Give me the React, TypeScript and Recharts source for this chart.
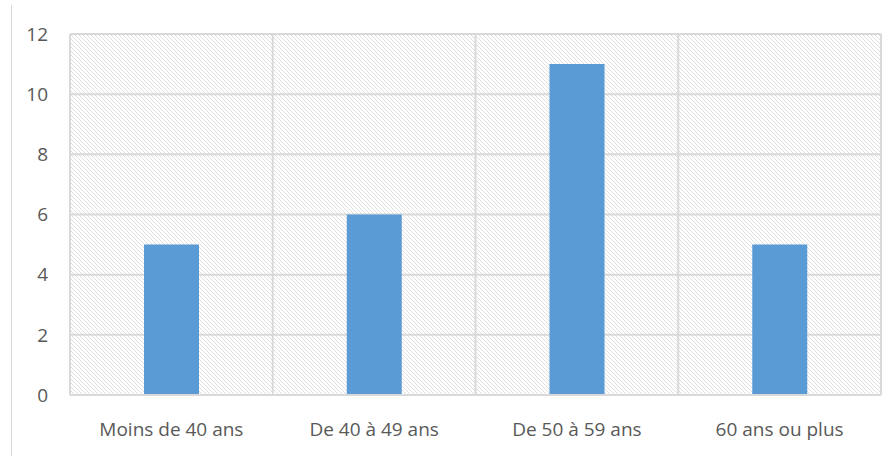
import { BarChart, Bar, XAxis, YAxis, CartesianGrid } from 'recharts';

const categories = ['Moins de 40 ans', 'De 40 à 49 ans', 'De 50 à 59 ans', '60 ans ou plus'];
const counts = [5, 6, 11, 5];
const yTicks = [0, 2, 4, 6, 8, 10, 12];

const data = categories.map((name, i) => ({ name, value: counts[i] }));

const font = "'Open Sans', 'Noto Sans', sans-serif";

export default function App() {
  return (
    <div style={{ position: 'absolute', left: 0, top: 0, width: 896, height: 456, background: '#fff' }}>
      <svg width="0" height="0" style={{ position: 'absolute' }}>
        <defs>
          <pattern id="hatch" width="4" height="4" patternUnits="userSpaceOnUse">
            <path d="M-1,-1 l2,2 M0,0 l4,4 M3,3 l2,2" stroke="#dcdcdc" strokeWidth="0.9" />
          </pattern>
        </defs>
      </svg>
      <div style={{ position: 'absolute', left: 11, top: 5, bottom: 0, borderLeft: '1px solid #d9d9d9' }} />
      <BarChart
        width={896}
        height={456}
        data={data}
        margin={{ top: 34, right: 15, bottom: 31, left: 10 }}
      >
        <CartesianGrid
          stroke="#d9d9d9"
          strokeWidth={2}
          fill="url(#hatch)"
          fillOpacity={1}
          verticalCoordinatesGenerator={({ offset }: any) =>
            categories.map((_, i) => offset.left + (i * offset.width) / categories.length).concat(offset.left + offset.width)
          }
        />
        <XAxis
          dataKey="name"
          height={30}
          axisLine={{ stroke: '#d9d9d9', strokeWidth: 2 }}
          tickLine={false}
          tickMargin={22}
          tick={{ fill: '#595959', fontSize: 19, fontFamily: font }}
        />
        <YAxis
          width={60}
          domain={[0, 12]}
          ticks={yTicks}
          axisLine={false}
          tickLine={false}
          tickMargin={16}
          tick={{ fill: '#595959', fontSize: 19, fontFamily: font }}
        />
        <Bar dataKey="value" fill="#5b9bd5" barSize={55} isAnimationActive={false} />
      </BarChart>
    </div>
  );
}
